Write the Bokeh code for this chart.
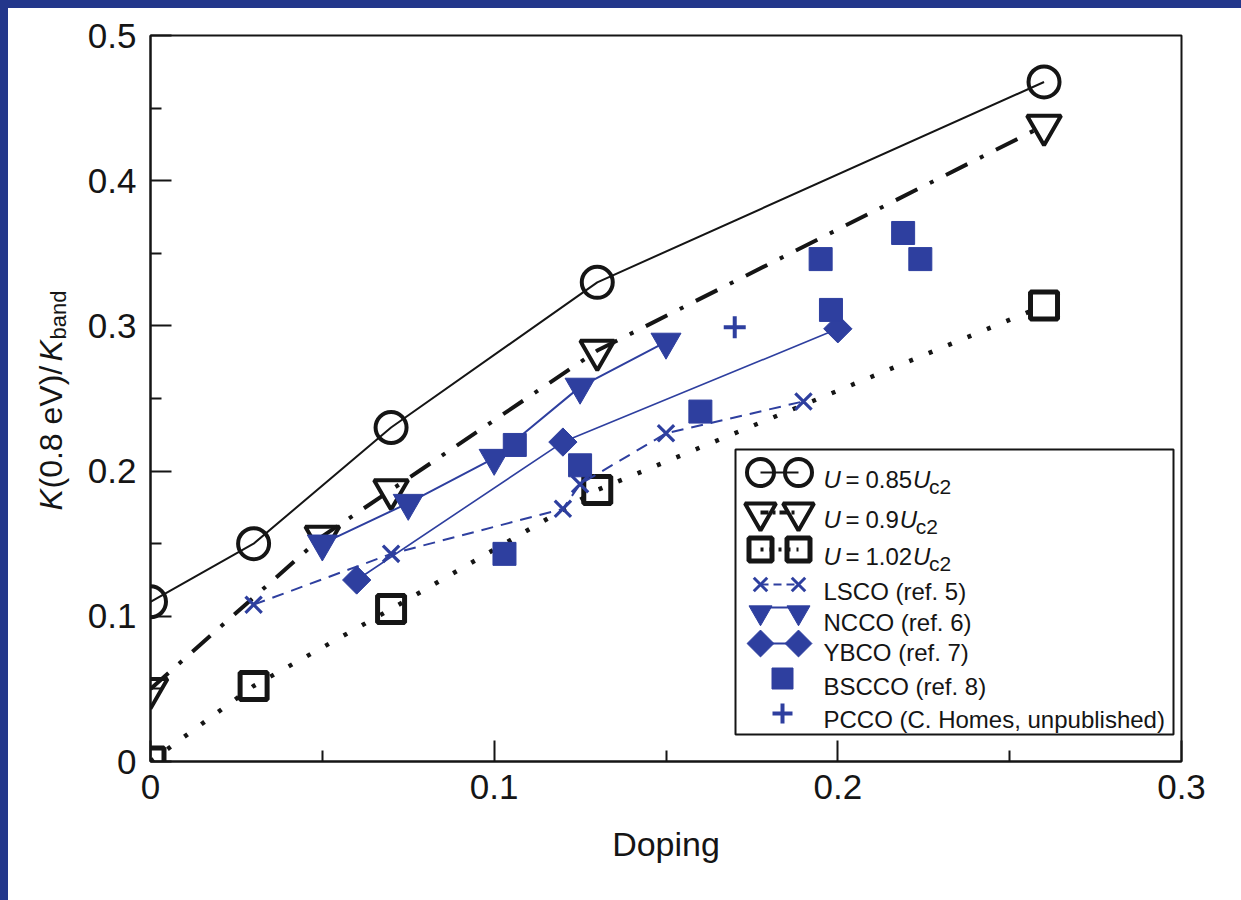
import numpy as np
from bokeh.plotting import figure
from bokeh.models import Range1d, FixedTicker, Spacer
from bokeh.layouts import column, row
from bokeh.core.properties import value
from bokeh.embed import file_html
from bokeh.resources import INLINE

# ---- data -------------------------------------------------------------
# theory: kinetic-energy ratio for three interaction strengths
dop_085 = [0.0, 0.03, 0.07, 0.13, 0.26]
k_085 = [0.11, 0.15, 0.23, 0.33, 0.468]
dop_090 = [0.0, 0.05, 0.07, 0.13, 0.26]
k_090 = [0.05, 0.155, 0.187, 0.283, 0.438]
dop_102 = [0.0, 0.03, 0.07, 0.13, 0.26]
k_102 = [0.0, 0.052, 0.105, 0.187, 0.314]

# experiments
lsco_x = [0.03, 0.07, 0.12, 0.125, 0.15, 0.19]
lsco_y = [0.108, 0.143, 0.174, 0.191, 0.226, 0.248]
ncco_x = [0.05, 0.075, 0.10, 0.125, 0.15]
ncco_y = [0.150, 0.178, 0.209, 0.258, 0.289]
ybco_x = [0.06, 0.12, 0.20]
ybco_y = [0.125, 0.220, 0.298]
bscco_x = [0.103, 0.106, 0.125, 0.160, 0.195, 0.198, 0.219, 0.224]
bscco_y = [0.143, 0.218, 0.204, 0.241, 0.346, 0.311, 0.364, 0.346]
pcco_x = [0.17]
pcco_y = [0.299]

x_ticks = [0, 0.1, 0.2, 0.3]
x_tick_labels = ["0", "0.1", "0.2", "0.3"]
x_minor = [0.05, 0.15, 0.25]
y_ticks = [0, 0.1, 0.2, 0.3, 0.4, 0.5]
y_tick_labels = ["0", "0.1", "0.2", "0.3", "0.4", "0.5"]
y_minor = [0.05, 0.15, 0.25, 0.35, 0.45]

u_coefs = ["0.85", "0.9", "1.02"]
legend_labels = ["LSCO (ref. 5)", "NCCO (ref. 6)", "YBCO (ref. 7)",
                 "BSCCO (ref. 8)", "PCCO (C. Homes, unpublished)"]

# ---- styling -------------------------------------------------------------
FONT = "Liberation Sans"
BLUE = "#2E3F9F"
FRAME_BLUE = "#23378B"
INK = "#151515"

X0, X1, Y0, Y1 = 0.0, 0.3, 0.0, 0.5
W, H = 1241, 900
# frame placement on the page (pixels)
FL, FR, FT, FB = 150, 1181, 35, 761
PAD = 8    # coloured band at top and left
YW = 70    # strip holding the vertical axis title

p = figure(width=W - PAD - YW, height=H - PAD,
           x_range=Range1d(X0, X1), y_range=Range1d(Y0, Y1),
           output_backend="svg", toolbar_location=None,
           min_border_left=FL - PAD - YW, min_border_right=W - FR,
           min_border_top=FT - PAD, min_border_bottom=H - FB)
p.background_fill_color = "white"
p.border_fill_color = "white"
p.grid.visible = False
p.outline_line_color = INK
p.outline_line_width = 2


def px_x(px):
    return X0 + (px - FL) / (FR - FL) * (X1 - X0)


def px_y(py):
    return Y1 - (py - FT) / (FB - FT) * (Y1 - Y0)


for ax, ticks, labels, minor in ((p.xaxis[0], x_ticks, x_tick_labels, x_minor),
                                 (p.yaxis[0], y_ticks, y_tick_labels, y_minor)):
    ax.ticker = FixedTicker(ticks=ticks, minor_ticks=minor)
    ax.major_label_overrides = dict(zip(ticks, labels))
    ax.axis_line_color = INK
    ax.axis_line_width = 2
    ax.major_tick_in = 21
    ax.major_tick_out = 0
    ax.minor_tick_in = 11
    ax.minor_tick_out = 0
    ax.major_tick_line_width = 2
    ax.minor_tick_line_width = 2
    ax.major_tick_line_color = INK
    ax.minor_tick_line_color = INK
    ax.major_label_text_font = FONT
    ax.major_label_text_font_size = "35px"
    ax.major_label_text_color = INK

p.yaxis.major_label_standoff = 14
p.xaxis.major_label_standoff = 13
p.xaxis.axis_label = "Doping"
p.xaxis.axis_label_text_font = FONT
p.xaxis.axis_label_text_font_size = "34px"
p.xaxis.axis_label_text_font_style = "normal"
p.xaxis.axis_label_text_color = INK
p.xaxis.axis_label_standoff = 23

# ---- theory curves ----------------------------------------------------------
p.line(dop_085, k_085, line_color=INK, line_width=2)
p.scatter(dop_085, k_085, marker="circle", size=31, fill_color=None,
          line_color=INK, line_width=4)
p.line(dop_090, k_090, line_color=INK, line_width=4, line_dash="24 14 4 14")
p.scatter(dop_090, k_090, marker="inverted_triangle", size=34, fill_color=None,
          line_color=INK, line_width=4)
p.line(dop_102, k_102, line_color=INK, line_width=4.5, line_dash="4 17")
p.scatter(dop_102, k_102, marker="square", size=27, fill_color=None,
          line_color=INK, line_width=5)

# ---- experimental data --------------------------------------------------------
p.line(lsco_x, lsco_y, line_color=BLUE, line_width=2, line_dash="12 8")
p.scatter(lsco_x, lsco_y, marker="x", size=23, line_color=BLUE, line_width=3.2)
p.line(ncco_x, ncco_y, line_color=BLUE, line_width=2)
p.scatter(ncco_x, ncco_y, marker="inverted_triangle", size=30, color=BLUE)
p.line(ybco_x, ybco_y, line_color=BLUE, line_width=1.6)
p.scatter(ybco_x, ybco_y, marker="square", angle=np.pi / 4, size=20, color=BLUE)
p.scatter(bscco_x, bscco_y, marker="square", size=23, color=BLUE)
p.scatter(pcco_x, pcco_y, marker="cross", size=22, line_color=BLUE, line_width=4)

# ---- legend -------------------------------------------------------------------
p.quad(left=[px_x(735)], right=[px_x(1173)], top=[px_y(449)], bottom=[px_y(734)],
       fill_color="white", line_color=INK, line_width=2)

row_y = [472, 512, 549, 584, 612, 643, 678, 713]
base_y = [479, 519, 556, 591, 622, 652, 686, 719]
mx = [px_x(760), px_x(798)]
mid = px_x(782)


def pair(i):
    return mx, [px_y(row_y[i])] * 2


xs, ys = pair(0)
p.line(xs, ys, line_color=INK, line_width=2)
p.scatter(xs, ys, marker="circle", size=27, fill_color=None, line_color=INK, line_width=4)
xs, ys = pair(1)
p.line(xs, ys, line_color=INK, line_width=4, line_dash="8 4 3 4")
p.scatter(xs, ys, marker="inverted_triangle", size=31, fill_color=None, line_color=INK, line_width=4)
xs, ys = pair(2)
p.line(xs, ys, line_color=INK, line_width=4, line_dash="3 6")
p.scatter(xs, ys, marker="square", size=23, fill_color=None, line_color=INK, line_width=5)
xs, ys = pair(3)
p.line(xs, ys, line_color=BLUE, line_width=2, line_dash="8 5")
p.scatter(xs, ys, marker="x", size=19, line_color=BLUE, line_width=3)
xs, ys = pair(4)
p.line(xs, [px_y(row_y[4] - 5)] * 2, line_color=BLUE, line_width=2)
p.scatter(xs, ys, marker="inverted_triangle", size=23, color=BLUE)
xs, ys = pair(5)
p.line(xs, ys, line_color=BLUE, line_width=2)
p.scatter(xs, ys, marker="square", angle=np.pi / 4, size=19, color=BLUE)
p.scatter([mid], [px_y(row_y[6])], marker="square", size=21, color=BLUE)
p.scatter([mid], [px_y(row_y[7])], marker="cross", size=20, line_color=BLUE, line_width=4)

LEG_SIZE = "24px"
SUB_SIZE = "21px"


def piece(px, py, s, size=LEG_SIZE, style="normal"):
    p.text([px_x(px)], [px_y(py)], text=[s], text_font=value(FONT),
           text_font_size=size, text_font_style=style, text_color=INK,
           text_align="left", text_baseline="alphabetic")


# U = c U_c2, laid out piece by piece (widths for a 24px sans face)
for i, coef in enumerate(u_coefs):
    b = base_y[i]
    num_w = 13.3 * len(coef) - (6.7 if "." in coef else 0)
    piece(823, b, "U", style="italic")
    piece(845, b, "=")
    piece(865, b, coef)
    ux = 865 + num_w + 1
    piece(ux, b, "U", style="italic")
    piece(ux + 16, b + 7, "c2", size=SUB_SIZE)

for lab, b in zip(legend_labels, base_y[3:]):
    piece(823, b, lab)

# ---- vertical axis title: K(0.8 eV)/K_band ------------------------------------
# same vertical borders as the main plot, so its frame spans the same rows
yt = figure(width=YW, height=H - PAD, x_range=Range1d(PAD, PAD + YW),
            y_range=Range1d(FB, FT), x_axis_type=None, y_axis_type=None,
            output_backend="svg", toolbar_location=None,
            min_border_left=0, min_border_right=0,
            min_border_top=FT - PAD, min_border_bottom=H - FB)
yt.outline_line_color = None
yt.background_fill_color = "white"
yt.border_fill_color = "white"


def ylab(s, bx, py, size="32px", style="normal"):
    yt.text([bx], [py], text=[s], angle=np.pi / 2, text_font=value(FONT),
            text_font_size=size, text_font_style=style, text_color=INK,
            text_align="left", text_baseline="alphabetic")


ylab("K", 50, 510, style="italic")
ylab("(0.8 eV)/", 50, 488)
ylab("K", 50, 361, style="italic")
ylab("band", 58, 339, size="22px")

band_top = Spacer(width=W, height=PAD, styles={"background-color": FRAME_BLUE})
band_left = Spacer(width=PAD, height=H - PAD, styles={"background-color": FRAME_BLUE})
page = column(band_top, row(band_left, yt, p, spacing=0), spacing=0)

open("out.html", "w").write(file_html(page, INLINE))
